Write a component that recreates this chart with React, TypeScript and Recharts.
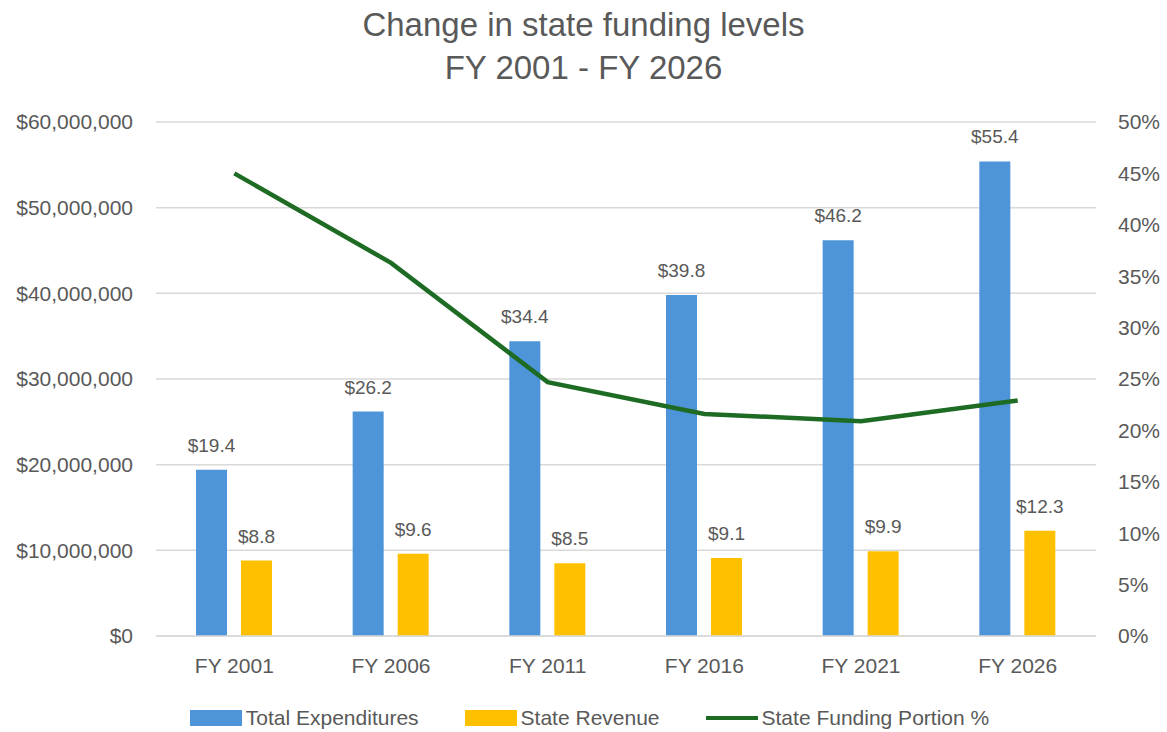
import React from 'react';
import {
  Bar,
  CartesianGrid,
  ComposedChart,
  LabelList,
  Legend,
  Line,
  XAxis,
  YAxis
} from 'recharts';

const categories = ['FY 2001', 'FY 2006', 'FY 2011', 'FY 2016', 'FY 2021', 'FY 2026'];
const totalExpenditures = [19400000, 26200000, 34400000, 39800000, 46200000, 55400000];
const stateRevenue = [8800000, 9600000, 8500000, 9100000, 9900000, 12300000];
const fundingPortion = [0.45, 0.363, 0.247, 0.216, 0.209, 0.229];

const dollarTicks = [0, 10000000, 20000000, 30000000, 40000000, 50000000, 60000000];
const percentTicks = [0, 0.05, 0.1, 0.15, 0.2, 0.25, 0.3, 0.35, 0.4, 0.45, 0.5];

const chartData = categories.map((fy, i) => ({
  fy,
  total: totalExpenditures[i],
  revenue: stateRevenue[i],
  portion: fundingPortion[i]
}));

const FONT = '"Liberation Sans", Arial, sans-serif';
const TEXT = '#595959';
const BLUE = '#4E94D9';
const GOLD = '#FFC000';
const GREEN = '#1E6B24';

const legendItems = [
  { label: 'Total Expenditures', color: BLUE, kind: 'box' },
  { label: 'State Revenue', color: GOLD, kind: 'box' },
  { label: 'State Funding Portion %', color: GREEN, kind: 'line' }
];

const FundingLegend = () => (
  <div
    style={{
      display: 'flex',
      justifyContent: 'center',
      gap: 46,
      height: 24,
      alignItems: 'center',
      fontFamily: FONT,
      fontSize: 21,
      color: TEXT,
      paddingLeft: 12
    }}
  >
    {legendItems.map((item) => (
      <div key={item.label} style={{ display: 'flex', alignItems: 'center', gap: 4 }}>
        <div
          style={{
            width: 52,
            height: item.kind === 'box' ? 16 : 4,
            background: item.color
          }}
        />
        <span>{item.label}</span>
      </div>
    ))}
  </div>
);

const money = (v: number) => '$' + (v / 1000000).toFixed(1);

export default function App() {
  return (
    <div
      style={{
        position: 'absolute',
        left: 0,
        top: 0,
        width: 1167,
        height: 732,
        background: '#fff',
        fontFamily: FONT
      }}
    >
      <div
        style={{
          position: 'absolute',
          top: 3,
          left: 0,
          width: 1167,
          textAlign: 'center',
          color: TEXT,
          fontSize: 33,
          lineHeight: '43px'
        }}
      >
        <div>Change in state funding levels</div>
        <div>FY 2001 - FY 2026</div>
      </div>
      <ComposedChart
        width={1167}
        height={732}
        data={chartData}
        barGap={14}
        margin={{ top: 122, right: 0, left: 0, bottom: 12 }}
        style={{ fontFamily: FONT }}
      >
        <CartesianGrid yAxisId="left" vertical={false} stroke="#D9D9D9" strokeWidth={1.5} />
        <XAxis
          dataKey="fy"
          height={60}
          axisLine={{ stroke: '#D9D9D9', strokeWidth: 1.5 }}
          tickLine={false}
          tickMargin={16}
          tick={{ fill: TEXT, fontSize: 21 }}
        />
        <YAxis
          yAxisId="left"
          width={156}
          domain={[0, 60000000]}
          ticks={dollarTicks}
          tickFormatter={(v: number) => '$' + v.toLocaleString('en-US')}
          axisLine={false}
          tickLine={false}
          tickMargin={17}
          tick={{ fill: TEXT, fontSize: 21 }}
        />
        <YAxis
          yAxisId="right"
          orientation="right"
          width={71}
          domain={[0, 0.5]}
          ticks={percentTicks}
          tickFormatter={(v: number) => Math.round(v * 100) + '%'}
          axisLine={false}
          tickLine={false}
          tickMargin={16}
          tick={{ fill: TEXT, fontSize: 21 }}
        />
        <Legend
          verticalAlign="bottom"
          wrapperStyle={{ bottom: 2, left: 0, width: 1167 }}
          content={() => <FundingLegend />}
        />
        <Bar yAxisId="left" dataKey="total" name="Total Expenditures" fill={BLUE} barSize={31} isAnimationActive={false}>
          <LabelList dataKey="total" position="top" offset={18} formatter={money} fill={TEXT} fontSize={19} />
        </Bar>
        <Bar yAxisId="left" dataKey="revenue" name="State Revenue" fill={GOLD} barSize={31} isAnimationActive={false}>
          <LabelList dataKey="revenue" position="top" offset={18} formatter={money} fill={TEXT} fontSize={19} />
        </Bar>
        <Line
          yAxisId="right"
          dataKey="portion"
          name="State Funding Portion %"
          stroke={GREEN}
          strokeWidth={4.5}
          dot={false}
          activeDot={false}
          type="linear"
          isAnimationActive={false}
        />
      </ComposedChart>
    </div>
  );
}
